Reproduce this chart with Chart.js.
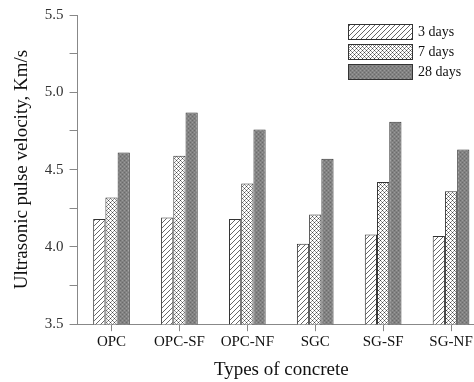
<!DOCTYPE html>
<html>
<head>
<meta charset="utf-8">
<script src="https://cdn.jsdelivr.net/npm/chart.js@4/dist/chart.umd.min.js"></script>
<style>
  html, body { margin: 0; padding: 0; background: #fff; overflow: hidden; width: 474px; height: 382px; }
  #wrap { width: 490px; height: 382px; }
</style>
</head>
<body>
<div id="wrap"><canvas id="upvChart"></canvas></div>
<script>
const categories = ['OPC', 'OPC-SF', 'OPC-NF', 'SGC', 'SG-SF', 'SG-NF'];
const days3 = [4.18, 4.19, 4.18, 4.02, 4.08, 4.07];
const days7 = [4.32, 4.59, 4.41, 4.21, 4.42, 4.36];
const days28 = [4.61, 4.87, 4.76, 4.57, 4.81, 4.63];
const seriesLabels = ['3 days', '7 days', '28 days'];

// Fill patterns
function makePattern(kind) {
    const c = document.createElement('canvas');
    const n = kind === 'hatch' ? 5 : 4;
    c.width = n; c.height = n;
    const g = c.getContext('2d');
    if (kind === 'hatch') {
        g.fillStyle = '#fff';
        g.fillRect(0, 0, n, n);
        g.fillStyle = '#666';
        for (let i = 0; i < n; i++) g.fillRect(n - 1 - i, i, 1, 1);
    } else if (kind === 'cross') {
        g.fillStyle = '#fff';
        g.fillRect(0, 0, 4, 4);
        g.fillStyle = '#444';
        g.fillRect(0, 0, 1, 1); g.fillRect(2, 2, 1, 1);
        g.fillStyle = '#999';
        g.fillRect(1, 1, 1, 1); g.fillRect(3, 3, 1, 1);
        g.fillRect(3, 1, 1, 1); g.fillRect(1, 3, 1, 1);
    } else {
        g.fillStyle = '#828282';
        g.fillRect(0, 0, 4, 4);
        g.fillStyle = '#6a6a6a';
        g.fillRect(0, 0, 1, 1); g.fillRect(2, 2, 1, 1);
        g.fillStyle = '#9a9a9a';
        g.fillRect(2, 0, 1, 1); g.fillRect(0, 2, 1, 1);
    }
    return document.createElement('canvas').getContext('2d').createPattern(c, 'repeat');
}

const fills = [makePattern('hatch'), makePattern('cross'), makePattern('dots')];

// Legend drawn inside the plot, top right
const boxLegend = {
    id: 'boxLegend',
    afterDraw(chart) {
        const ctx = chart.ctx;
        ctx.save();
        chart.data.datasets.forEach(function (ds, i) {
            const x = 348, y = 24 + i * 20, w = 64, h = 15;
            ctx.fillStyle = ds.backgroundColor;
            ctx.fillRect(x, y, w, h);
            ctx.strokeStyle = '#333';
            ctx.lineWidth = 1;
            ctx.strokeRect(x + 0.5, y + 0.5, w, h);
            ctx.fillStyle = '#111';
            ctx.font = '14px "Liberation Serif"';
            ctx.textBaseline = 'middle';
            ctx.fillText(ds.label, x + w + 6, y + h / 2 + 1);
        });
        ctx.restore();
    }
};

new Chart(document.getElementById('upvChart').getContext('2d'), {
    type: 'bar',
    data: {
        labels: categories,
        datasets: [days3, days7, days28].map(function (vals, i) {
            return {
                label: seriesLabels[i],
                data: vals,
                backgroundColor: fills[i],
                borderColor: '#333',
                borderWidth: 1,
                borderSkipped: 'bottom',
                barPercentage: 1.0,
                categoryPercentage: 0.54,
            };
        }),
    },
    options: {
        responsive: true,
        maintainAspectRatio: false,
        animation: false,
        layout: { padding: { top: 13, right: 5, left: 8, bottom: 0 } },
        plugins: {
            legend: { display: false },
            tooltip: { enabled: false },
        },
        scales: {
            y: {
                min: 3.5,
                max: 5.5,
                border: { color: '#888', width: 1 },
                grid: { drawOnChartArea: false, color: '#888', tickLength: 8 },
                ticks: {
                    stepSize: 0.25,
                    color: '#333',
                    padding: 6,
                    font: { family: 'Liberation Serif', size: 15 },
                    callback: function (v) {
                        return Math.abs(v * 2 - Math.round(v * 2)) < 1e-6 ? v.toFixed(1) : '';
                    },
                },
                title: {
                    display: true,
                    text: 'Ultrasonic pulse velocity, Km/s',
                    color: '#111',
                    font: { family: 'Liberation Serif', size: 19 },
                    padding: { top: 3, bottom: 5 },
                },
            },
            x: {
                border: { color: '#888', width: 1 },
                grid: { drawOnChartArea: false, offset: false, color: '#888', tickLength: 7 },
                ticks: {
                    color: '#111',
                    padding: 2,
                    font: { family: 'Liberation Serif', size: 15 },
                },
                title: {
                    display: true,
                    text: 'Types of concrete',
                    color: '#111',
                    font: { family: 'Liberation Serif', size: 19 },
                    padding: { top: 5, bottom: 1 },
                },
            },
        },
    },
    plugins: [boxLegend],
});
</script>
</body>
</html>
